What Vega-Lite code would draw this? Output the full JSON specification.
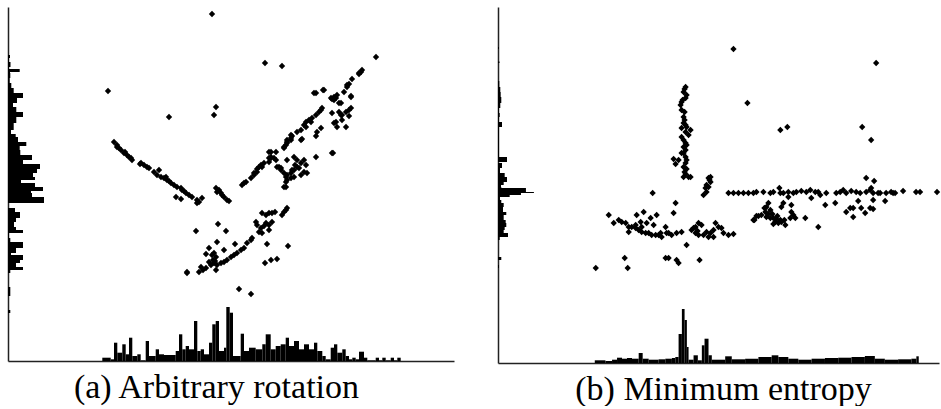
{
"$schema":"https://vega.github.io/schema/vega-lite/v6.json",
"padding":{"left":8,"top":7,"right":0,"bottom":0},
"background":"white",
"spacing":44,
"config":{"view":{"stroke":null},"axis":{"domainColor":"#222","domainWidth":1.5,"ticks":false,"labels":false,"grid":false,"titleFont":"Liberation Serif","titleFontSize":34,"titleFontWeight":"normal","titleColor":"black","titleBaseline":"alphabetic","titleAlign":"center","titleY":36}},
"datasets":{
"ptsA":[{"x":204,"y":347},{"x":257,"y":298},{"x":274,"y":295},{"x":368,"y":304},{"x":100,"y":270},{"x":208,"y":254},{"x":206,"y":246},{"x":161,"y":244},{"x":324,"y":208},{"x":231,"y":72},{"x":243,"y":67},{"x":179,"y":88},{"x":188,"y":130},{"x":280,"y":115},
{"x":106,"y":219},{"x":109,"y":214},{"x":113,"y":211},{"x":116,"y":208},{"x":119,"y":206},{"x":123,"y":203},{"x":124,"y":201},{"x":121,"y":204},{"x":132,"y":197},{"x":133,"y":198},{"x":139,"y":194},{"x":141,"y":193},{"x":146,"y":189},{"x":151,"y":191},{"x":149,"y":186},{"x":153,"y":184},{"x":156,"y":183},{"x":159,"y":181},{"x":163,"y":178},{"x":166,"y":176},{"x":169,"y":174},{"x":173,"y":173},{"x":174,"y":171},{"x":178,"y":168},{"x":181,"y":166},{"x":184,"y":164},{"x":189,"y":161},{"x":189,"y":158},{"x":194,"y":163},{"x":168,"y":164},{"x":173,"y":162},{"x":109,"y":216},{"x":111,"y":213},{"x":117,"y":209},{"x":136,"y":196},{"x":158,"y":184},{"x":161,"y":180},{"x":176,"y":170},{"x":191,"y":159},
{"x":208,"y":173},{"x":209,"y":169},{"x":213,"y":168},{"x":216,"y":164},{"x":219,"y":161},{"x":221,"y":160},{"x":211,"y":171},{"x":214,"y":166},
{"x":234,"y":176},{"x":236,"y":178},{"x":238,"y":179},{"x":243,"y":183},{"x":246,"y":186},{"x":249,"y":189},{"x":251,"y":194},{"x":254,"y":194},{"x":256,"y":198},{"x":261,"y":199},{"x":263,"y":203},{"x":263,"y":204},{"x":268,"y":209},{"x":263,"y":209},{"x":268,"y":201},{"x":271,"y":194},{"x":273,"y":191},{"x":276,"y":188},{"x":278,"y":184},{"x":279,"y":181},{"x":278,"y":174},{"x":283,"y":188},{"x":286,"y":191},{"x":276,"y":213},{"x":279,"y":219},{"x":283,"y":223},{"x":279,"y":218},{"x":276,"y":214},{"x":283,"y":221},{"x":284,"y":225},{"x":293,"y":221},{"x":294,"y":222},
{"x":353,"y":289},{"x":354,"y":291},{"x":351,"y":287},{"x":351,"y":288},{"x":344,"y":282},{"x":341,"y":277},{"x":339,"y":274},{"x":339,"y":276},{"x":336,"y":269},{"x":329,"y":266},{"x":326,"y":264},{"x":324,"y":262},{"x":323,"y":263},{"x":328,"y":263},{"x":333,"y":258},{"x":343,"y":265},{"x":343,"y":264},{"x":308,"y":268},{"x":315,"y":271},{"x":306,"y":268},{"x":316,"y":271},{"x":326,"y":261},{"x":331,"y":258},{"x":324,"y":248},{"x":331,"y":249},{"x":334,"y":246},{"x":338,"y":249},{"x":343,"y":253},{"x":341,"y":245},{"x":328,"y":239},{"x":326,"y":238},{"x":338,"y":234},{"x":329,"y":234},{"x":333,"y":246},{"x":334,"y":241},{"x":341,"y":251},
{"x":314,"y":253},{"x":311,"y":249},{"x":308,"y":246},{"x":304,"y":243},{"x":303,"y":239},{"x":298,"y":234},{"x":293,"y":231},{"x":289,"y":229},{"x":283,"y":226},{"x":279,"y":221},{"x":278,"y":216},{"x":313,"y":233},{"x":308,"y":225},{"x":325,"y":208},{"x":308,"y":204},{"x":301,"y":241},{"x":296,"y":236},{"x":309,"y":229},{"x":313,"y":251},{"x":298,"y":239},
{"x":261,"y":209},{"x":261,"y":203},{"x":266,"y":203},{"x":269,"y":194},{"x":273,"y":193},{"x":279,"y":186},{"x":279,"y":201},{"x":286,"y":204},{"x":289,"y":201},{"x":293,"y":198},{"x":296,"y":201},{"x":298,"y":196},{"x":296,"y":189},{"x":299,"y":188},{"x":293,"y":186},{"x":286,"y":184},{"x":283,"y":183},{"x":278,"y":179},{"x":276,"y":174},{"x":253,"y":196},{"x":249,"y":192},{"x":246,"y":188},{"x":289,"y":194},{"x":284,"y":191},{"x":291,"y":193},{"x":287,"y":196},
{"x":254,"y":148},{"x":258,"y":146},{"x":261,"y":148},{"x":264,"y":148},{"x":267,"y":149},{"x":274,"y":146},{"x":276,"y":149},{"x":279,"y":153},{"x":278,"y":151},{"x":248,"y":139},{"x":249,"y":136},{"x":253,"y":133},{"x":251,"y":129},{"x":254,"y":128},{"x":258,"y":138},{"x":261,"y":136},{"x":264,"y":139},{"x":261,"y":131},{"x":256,"y":135},{"x":244,"y":123},{"x":243,"y":121},{"x":239,"y":118},{"x":236,"y":113},{"x":233,"y":111},{"x":229,"y":108},{"x":226,"y":106},{"x":223,"y":104},{"x":219,"y":101},{"x":216,"y":99},{"x":213,"y":98},{"x":209,"y":96},{"x":206,"y":98},{"x":204,"y":106},{"x":206,"y":108},{"x":208,"y":104},{"x":201,"y":99},{"x":203,"y":96},{"x":193,"y":94},{"x":191,"y":89},{"x":198,"y":93},{"x":208,"y":91},{"x":179,"y":89},{"x":201,"y":113},{"x":209,"y":119},{"x":216,"y":111},{"x":198,"y":107},{"x":227,"y":117},{"x":259,"y":117},{"x":257,"y":98},{"x":263,"y":101},{"x":269,"y":102},{"x":210,"y":137},{"x":218,"y":130},{"x":205,"y":101},{"x":207,"y":100},{"x":195,"y":91}],
"hyA":[{"lo":303,"hi":306,"n":2},{"lo":299,"hi":303,"n":1},{"lo":294,"hi":299,"n":2.5},{"lo":292,"hi":294,"n":1},{"lo":289,"hi":292,"n":11.7},{"lo":288,"hi":289,"n":2},{"lo":283,"hi":288,"n":2.3},{"lo":278,"hi":283,"n":1.7},{"lo":273,"hi":278,"n":3.3},{"lo":268,"hi":273,"n":5.7},{"lo":263,"hi":268,"n":15},{"lo":258,"hi":263,"n":9},{"lo":254,"hi":258,"n":5},{"lo":249,"hi":254,"n":8.3},{"lo":244,"hi":249,"n":15},{"lo":238,"hi":244,"n":8.3},{"lo":231,"hi":238,"n":5.7},{"lo":227,"hi":231,"n":3},{"lo":224,"hi":227,"n":7.7},{"lo":219,"hi":224,"n":10},{"lo":215,"hi":219,"n":18.3},{"lo":211,"hi":215,"n":11.7},{"lo":206,"hi":211,"n":12.3},{"lo":201,"hi":206,"n":24},{"lo":197,"hi":201,"n":15},{"lo":192,"hi":197,"n":32},{"lo":188,"hi":192,"n":29},{"lo":184,"hi":188,"n":25},{"lo":181,"hi":184,"n":27},{"lo":178,"hi":181,"n":13},{"lo":174,"hi":178,"n":27},{"lo":170,"hi":174,"n":35},{"lo":168,"hi":170,"n":23},{"lo":164,"hi":168,"n":24},{"lo":158,"hi":164,"n":36},{"lo":149,"hi":153,"n":7},{"lo":143,"hi":149,"n":12},{"lo":139,"hi":143,"n":8},{"lo":134,"hi":139,"n":6},{"lo":131,"hi":134,"n":8},{"lo":128,"hi":131,"n":15},{"lo":123,"hi":128,"n":1},{"lo":119,"hi":123,"n":2.3},{"lo":113,"hi":119,"n":15},{"lo":108,"hi":113,"n":8},{"lo":106,"hi":108,"n":3},{"lo":101,"hi":106,"n":15},{"lo":98,"hi":101,"n":12},{"lo":94,"hi":98,"n":8},{"lo":91,"hi":94,"n":15},{"lo":88,"hi":91,"n":2.3},{"lo":65,"hi":74,"n":2.3},{"lo":48,"hi":51,"n":2.3}],
"hxA":[{"lo":94.3,"hi":102.7,"n":3.3},{"lo":102.7,"hi":106,"n":1.7},{"lo":106,"hi":109.3,"n":18.3},{"lo":109.3,"hi":114.3,"n":8.3},{"lo":114.3,"hi":117.7,"n":16.7},{"lo":117.7,"hi":121,"n":6.7},{"lo":121,"hi":124.3,"n":23.3},{"lo":124.3,"hi":129.3,"n":5},{"lo":129.3,"hi":132.7,"n":6.7},{"lo":132.7,"hi":137.7,"n":0.7},{"lo":137.7,"hi":141,"n":20},{"lo":141,"hi":147.7,"n":5},{"lo":147.7,"hi":151,"n":11.7},{"lo":151,"hi":156,"n":6.7},{"lo":156,"hi":167.7,"n":6},{"lo":167.7,"hi":171,"n":10},{"lo":171,"hi":174.3,"n":26.7},{"lo":174.3,"hi":177.7,"n":11.7},{"lo":177.7,"hi":181,"n":15},{"lo":181,"hi":186,"n":11.7},{"lo":186,"hi":189.3,"n":40},{"lo":189.3,"hi":192.7,"n":10},{"lo":192.7,"hi":196,"n":11.7},{"lo":196,"hi":201,"n":6.7},{"lo":201,"hi":204.3,"n":18.3},{"lo":204.3,"hi":207.7,"n":36.7},{"lo":207.7,"hi":211,"n":40},{"lo":211,"hi":216,"n":10},{"lo":216,"hi":218.3,"n":13.3},{"lo":218.3,"hi":221.7,"n":54},{"lo":221.7,"hi":225,"n":48.3},{"lo":225,"hi":232.7,"n":5},{"lo":232.7,"hi":236,"n":27.3},{"lo":236,"hi":241,"n":10},{"lo":241,"hi":247.7,"n":13.3},{"lo":247.7,"hi":254.3,"n":11.7},{"lo":254.3,"hi":257.7,"n":16.7},{"lo":257.7,"hi":262.7,"n":26.7},{"lo":262.7,"hi":267.7,"n":11.7},{"lo":267.7,"hi":272.7,"n":15},{"lo":272.7,"hi":277.7,"n":16.7},{"lo":277.7,"hi":281,"n":23.3},{"lo":281,"hi":286,"n":15},{"lo":286,"hi":291,"n":20},{"lo":291,"hi":296,"n":11.7},{"lo":296,"hi":301,"n":16.7},{"lo":301,"hi":306,"n":11.7},{"lo":306,"hi":309.3,"n":18.3},{"lo":309.3,"hi":314.3,"n":10},{"lo":314.3,"hi":317.7,"n":5},{"lo":317.7,"hi":322.7,"n":1.7},{"lo":322.7,"hi":326,"n":13.3},{"lo":326,"hi":329.3,"n":16.7},{"lo":329.3,"hi":334.3,"n":8.3},{"lo":334.3,"hi":337.7,"n":11.7},{"lo":337.7,"hi":341,"n":5},{"lo":341,"hi":344.3,"n":1.7},{"lo":344.3,"hi":347.7,"n":3.3},{"lo":347.7,"hi":351,"n":1.7},{"lo":351,"hi":356,"n":9.3},{"lo":356,"hi":359.3,"n":3.3},{"lo":359.3,"hi":367.7,"n":0.7},{"lo":367.7,"hi":371,"n":3.3},{"lo":371,"hi":374.3,"n":0.7},{"lo":374.3,"hi":377.7,"n":3.3},{"lo":377.7,"hi":382.7,"n":0.7},{"lo":382.7,"hi":386,"n":3.3},{"lo":386,"hi":389.3,"n":0.7},{"lo":389.3,"hi":392.7,"n":3.3}],
"ptsB":[{"x":236,"y":314},{"x":379,"y":300},{"x":250,"y":260},{"x":283,"y":233},{"x":290,"y":236},{"x":365,"y":236},{"x":374,"y":223},{"x":98,"y":95},{"x":127,"y":105},{"x":130,"y":95},{"x":321,"y":136},{"x":369,"y":185},{"x":377,"y":182},{"x":155,"y":170},{"x":256,"y":143},{"x":308,"y":145},{"x":440,"y":171},
{"x":188,"y":276},{"x":186,"y":271},{"x":189,"y":268},{"x":188,"y":265},{"x":184,"y":261},{"x":183,"y":258},{"x":184,"y":253},{"x":186,"y":246},{"x":186,"y":240},{"x":188,"y":238},{"x":189,"y":236},{"x":193,"y":233},{"x":188,"y":231},{"x":184,"y":226},{"x":186,"y":223},{"x":188,"y":220},{"x":186,"y":216},{"x":188,"y":213},{"x":186,"y":210},{"x":188,"y":206},{"x":189,"y":203},{"x":188,"y":200},{"x":186,"y":196},{"x":189,"y":194},{"x":191,"y":186},{"x":186,"y":186},{"x":176,"y":204},{"x":178,"y":199},{"x":181,"y":203},{"x":184,"y":210},{"x":189,"y":218},{"x":184,"y":235},{"x":191,"y":228},{"x":193,"y":186},{"x":188,"y":189},{"x":187,"y":274},{"x":185,"y":263},{"x":187,"y":251},{"x":187,"y":243},{"x":187,"y":191},
{"x":211,"y":185},{"x":213,"y":181},{"x":209,"y":178},{"x":208,"y":175},{"x":211,"y":176},{"x":209,"y":171},{"x":206,"y":168},{"x":213,"y":186},{"x":212,"y":183},
{"x":231,"y":170},{"x":236,"y":170},{"x":241,"y":170},{"x":246,"y":170},{"x":251,"y":170},{"x":256,"y":170},{"x":259,"y":171},{"x":266,"y":171},{"x":273,"y":170},{"x":276,"y":171},{"x":282,"y":175},{"x":283,"y":170},{"x":296,"y":170},{"x":299,"y":171},{"x":304,"y":172},{"x":309,"y":171},{"x":313,"y":173},{"x":321,"y":171},{"x":323,"y":168},{"x":329,"y":170},{"x":339,"y":170},{"x":343,"y":171},{"x":346,"y":173},{"x":349,"y":170},{"x":354,"y":172},{"x":359,"y":171},{"x":373,"y":173},{"x":376,"y":170},{"x":381,"y":170},{"x":383,"y":170},{"x":374,"y":175},{"x":398,"y":170},{"x":406,"y":172},{"x":419,"y":171},{"x":423,"y":171},{"x":291,"y":171},{"x":286,"y":170},{"x":318,"y":171},{"x":363,"y":170},{"x":369,"y":171},{"x":389,"y":170},{"x":394,"y":171},
{"x":271,"y":160},{"x":269,"y":156},{"x":273,"y":153},{"x":268,"y":151},{"x":264,"y":148},{"x":269,"y":146},{"x":273,"y":145},{"x":276,"y":145},{"x":279,"y":144},{"x":283,"y":143},{"x":284,"y":141},{"x":281,"y":140},{"x":288,"y":138},{"x":278,"y":141},{"x":257,"y":143},{"x":261,"y":147},{"x":284,"y":156},{"x":286,"y":160},{"x":291,"y":166},{"x":294,"y":158},{"x":294,"y":151},{"x":296,"y":148},{"x":298,"y":145},{"x":293,"y":145},{"x":314,"y":165},{"x":328,"y":158},{"x":338,"y":160},{"x":349,"y":151},{"x":353,"y":155},{"x":356,"y":155},{"x":356,"y":146},{"x":361,"y":162},{"x":364,"y":155},{"x":368,"y":150},{"x":373,"y":155},{"x":376,"y":154},{"x":376,"y":163},{"x":388,"y":162},{"x":271,"y":149},{"x":275,"y":149},{"x":280,"y":147},{"x":267,"y":155},{"x":287,"y":143},{"x":276,"y":139},{"x":396,"y":170},
{"x":111,"y":148},{"x":116,"y":140},{"x":121,"y":143},{"x":124,"y":141},{"x":128,"y":140},{"x":131,"y":136},{"x":134,"y":136},{"x":138,"y":135},{"x":141,"y":133},{"x":144,"y":131},{"x":148,"y":130},{"x":151,"y":130},{"x":154,"y":128},{"x":158,"y":128},{"x":161,"y":128},{"x":164,"y":126},{"x":169,"y":130},{"x":174,"y":128},{"x":179,"y":130},{"x":184,"y":131},{"x":139,"y":148},{"x":146,"y":151},{"x":153,"y":145},{"x":159,"y":148},{"x":143,"y":141},{"x":156,"y":138},{"x":168,"y":136},{"x":176,"y":150},{"x":178,"y":160},{"x":131,"y":131},{"x":138,"y":138},{"x":144,"y":136},{"x":149,"y":140},{"x":163,"y":130},{"x":171,"y":130},
{"x":198,"y":136},{"x":201,"y":140},{"x":204,"y":138},{"x":194,"y":133},{"x":198,"y":130},{"x":201,"y":128},{"x":206,"y":128},{"x":209,"y":131},{"x":213,"y":130},{"x":216,"y":126},{"x":218,"y":140},{"x":221,"y":136},{"x":224,"y":135},{"x":226,"y":130},{"x":231,"y":128},{"x":236,"y":129},{"x":216,"y":133},{"x":211,"y":126},{"x":196,"y":135},{"x":200,"y":132},
{"x":189,"y":118},{"x":168,"y":105},{"x":171,"y":105},{"x":179,"y":103},{"x":181,"y":100},{"x":202,"y":103},{"x":259,"y":147}],
"hyB":[{"lo":314,"hi":316,"n":1},{"lo":300,"hi":301.5,"n":1.5},{"lo":276,"hi":282,"n":1.3},{"lo":271,"hi":276,"n":2.3},{"lo":266,"hi":271,"n":2.7},{"lo":260,"hi":266,"n":3.3},{"lo":255,"hi":260,"n":2.3},{"lo":250,"hi":255,"n":1},{"lo":246,"hi":250,"n":1.7},{"lo":241,"hi":246,"n":1},{"lo":236,"hi":241,"n":4},{"lo":206,"hi":236,"n":1},{"lo":201,"hi":206,"n":9},{"lo":195,"hi":200,"n":4},{"lo":190,"hi":195,"n":2},{"lo":186,"hi":190,"n":6.7},{"lo":181,"hi":186,"n":9},{"lo":178,"hi":181,"n":5.7},{"lo":176,"hi":178,"n":3},{"lo":175,"hi":176,"n":3.3},{"lo":171,"hi":175,"n":28},{"lo":170,"hi":171,"n":36},{"lo":168,"hi":170,"n":23},{"lo":166,"hi":168,"n":11.7},{"lo":163,"hi":166,"n":2},{"lo":160,"hi":163,"n":3.3},{"lo":156,"hi":160,"n":5.7},{"lo":151,"hi":156,"n":5},{"lo":148,"hi":151,"n":8.3},{"lo":143,"hi":148,"n":5.7},{"lo":140,"hi":143,"n":7.7},{"lo":136,"hi":140,"n":8.3},{"lo":133,"hi":136,"n":6.7},{"lo":130,"hi":133,"n":5.7},{"lo":126,"hi":130,"n":10},{"lo":123,"hi":126,"n":1.7},{"lo":103,"hi":106,"n":3.3},{"lo":95,"hi":98,"n":1}],
"hxB":[{"lo":97,"hi":107.7,"n":2.7},{"lo":107.7,"hi":114.3,"n":2},{"lo":114.3,"hi":119.3,"n":3.3},{"lo":119.3,"hi":124.3,"n":5.3},{"lo":124.3,"hi":129.3,"n":4.3},{"lo":129.3,"hi":134.3,"n":5},{"lo":134.3,"hi":141,"n":4.3},{"lo":141,"hi":145,"n":10},{"lo":145,"hi":151,"n":4.3},{"lo":151,"hi":161,"n":3.3},{"lo":161,"hi":167.7,"n":3.7},{"lo":167.7,"hi":174.3,"n":4.3},{"lo":174.3,"hi":177.7,"n":5},{"lo":177.7,"hi":181,"n":6},{"lo":181,"hi":184.3,"n":29},{"lo":184.3,"hi":187,"n":54},{"lo":187,"hi":189.3,"n":43},{"lo":189.3,"hi":191,"n":16},{"lo":191,"hi":196,"n":3.3},{"lo":196,"hi":200.3,"n":7.7},{"lo":200.3,"hi":204.3,"n":2.7},{"lo":204.3,"hi":207,"n":17.7},{"lo":207,"hi":211,"n":24.3},{"lo":211,"hi":214.3,"n":7.7},{"lo":214.3,"hi":227.7,"n":3.3},{"lo":227.7,"hi":234.3,"n":6.7},{"lo":234.3,"hi":247.7,"n":3.7},{"lo":247.7,"hi":261,"n":4.3},{"lo":261,"hi":274.3,"n":6},{"lo":274.3,"hi":281,"n":7.7},{"lo":281,"hi":291,"n":6},{"lo":291,"hi":301,"n":4.3},{"lo":301,"hi":314.3,"n":3.3},{"lo":314.3,"hi":327.7,"n":4.3},{"lo":327.7,"hi":341,"n":5},{"lo":341,"hi":354.3,"n":5.3},{"lo":354.3,"hi":367.7,"n":6},{"lo":367.7,"hi":377.7,"n":7},{"lo":377.7,"hi":387.7,"n":4.3},{"lo":387.7,"hi":401,"n":3.3},{"lo":401,"hi":414.3,"n":3.7},{"lo":414.3,"hi":419.3,"n":4.3},{"lo":419.3,"hi":421.7,"n":6.7}]
},
"hconcat":[
{"width":446,"height":354,
 "layer":[
  {"data":{"name":"ptsA"},"mark":{"type":"point","shape":"diamond","filled":true,"size":40,"color":"black","opacity":1},
   "encoding":{"x":{"field":"x","type":"quantitative","scale":{"domain":[0,446],"nice":false,"zero":false},"axis":{"title":"(a) Arbitrary rotation","titleX":208}},
               "y":{"field":"y","type":"quantitative","scale":{"domain":[0,354],"nice":false,"zero":false},"axis":{"title":null}}}},
  {"data":{"name":"hyA"},"mark":{"type":"rect","color":"black"},
   "encoding":{"x":{"field":"n","type":"quantitative","axis":{"title":"(a) Arbitrary rotation","titleX":208}},"x2":{"datum":0},
               "y":{"field":"lo","type":"quantitative","axis":{"title":null}},"y2":{"field":"hi"}}},
  {"data":{"name":"hxA"},"mark":{"type":"rect","color":"black"},
   "encoding":{"x":{"field":"lo","type":"quantitative","axis":{"title":"(a) Arbitrary rotation","titleX":208}},"x2":{"field":"hi"},
               "y":{"field":"n","type":"quantitative","axis":{"title":null}},"y2":{"datum":0}}}
 ]},
{"width":441,"height":356,
 "layer":[
  {"data":{"name":"ptsB"},"mark":{"type":"point","shape":"diamond","filled":true,"size":40,"color":"black","opacity":1},
   "encoding":{"x":{"field":"x","type":"quantitative","scale":{"domain":[0,442],"nice":false,"zero":false},"axis":{"title":"(b) Minimum entropy","titleX":225}},
               "y":{"field":"y","type":"quantitative","scale":{"domain":[0,356],"nice":false,"zero":false},"axis":{"title":null}}}},
  {"data":{"name":"hyB"},"mark":{"type":"rect","color":"black"},
   "encoding":{"x":{"field":"n","type":"quantitative","axis":{"title":"(b) Minimum entropy","titleX":225}},"x2":{"datum":0},
               "y":{"field":"lo","type":"quantitative","axis":{"title":null}},"y2":{"field":"hi"}}},
  {"data":{"name":"hxB"},"mark":{"type":"rect","color":"black"},
   "encoding":{"x":{"field":"lo","type":"quantitative","axis":{"title":"(b) Minimum entropy","titleX":225}},"x2":{"field":"hi"},
               "y":{"field":"n","type":"quantitative","axis":{"title":null}},"y2":{"datum":0}}}
 ]}
]
}
